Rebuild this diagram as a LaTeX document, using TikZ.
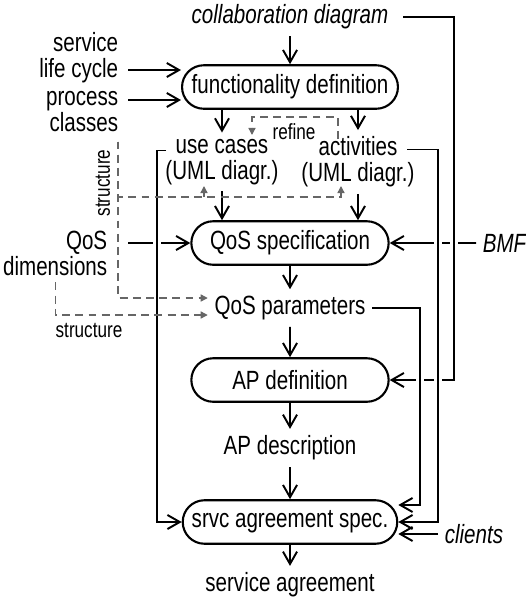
\documentclass[tikz,border=0pt]{standalone}
\usepackage{fontspec}
\setmainfont[FakeStretch=0.78]{Liberation Sans}
\usetikzlibrary{arrows.meta,positioning,shapes.misc}

\tikzset{
  stage/.style={draw,rounded rectangle,minimum width=4.18cm,minimum height=0.87cm,
    line width=1.2pt,font=\fontsize{15}{14.6}\selectfont},
  txt/.style={font=\fontsize{15}{14.6}\selectfont,align=center},
  ext/.style={font=\fontsize{15}{14.6}\selectfont\itshape},
  note/.style={font=\fontsize{12.5}{12}\selectfont},
  dsh/.style={draw=black!60,line width=0.75pt,dash pattern=on 4.5pt off 3pt},
  gtip/.style={-{Triangle[length=4pt,width=4pt]}},
  gap/.style={preaction={draw=white,line width=5pt,-,shorten >=0.5cm}}
}

\begin{document}
\begin{tikzpicture}[>={Straight Barb[length=7pt,width=8pt]},line width=1.1pt,node distance=1.4cm,on grid]
  \useasboundingbox (0,0) rectangle (10.52,-12);

  \node[ext] (collab) at (5.8,-0.34) {collaboration diagram};
  \node[stage] (func) [below=of collab] {functionality definition};
  \node[txt] (usec) [below left=1.5cm and 1.36cm of func] {use cases\\(UML diagr.)};
  \node[txt] (activ) [below right=1.5cm and 1.36cm of func] {activities\\(UML diagr.)};
  \node[stage] (qosspec) [below=3.12cm of func] {QoS specification};
  \node[txt] (qospar) [below=1.3cm of qosspec] {QoS parameters};
  \node[stage] (apdef) [below=1.44cm of qospar] {AP definition};
  \node[txt] (apdesc) [below=1.36cm of apdef] {AP description};
  \node[stage] (srvc) [below=1.48cm of apdesc] {srvc agreement spec.};
  \node[txt] (agree) [below=1.26cm of srvc] {service agreement};

  \node[txt,align=right,anchor=east] (cycle) at (2.5,-1.15) {service\\life cycle};
  \node[txt,align=right,anchor=east] (proc) at (2.5,-2.23) {process\\classes};
  \node[txt,align=right,anchor=east] (dims) at (2.28,-5.07) {QoS\\dimensions};
  \node[ext,anchor=west] (bmf) at (9.52,-4.86) {BMF};
  \node[ext,anchor=west] (clients) at (8.76,-10.68) {clients};
  \node[note] (refine) at (5.88,-2.64) {refine};
  \node[note,rotate=90] (struct) at (2.06,-3.66) {structure};
  \node[note] (struct2) at (1.78,-6.6) {structure};

  \coordinate (railL) at (3.14,0);
  \coordinate (railA) at (8.4,0);
  \coordinate (railB) at (8.76,0);
  \coordinate (railC) at (9.08,0);

  \draw[->] (collab) -- (func);
  \draw[->] (usec |- func.south) -- (usec);
  \draw[->] (activ |- func.south) -- (activ);
  \draw[->] (usec) -- (usec |- qosspec.north);
  \draw[->] (activ) -- (activ |- qosspec.north);
  \draw[->] (qosspec) -- (qospar);
  \draw[->] (qospar) -- (apdef);
  \draw[->] (apdef) -- (apdesc);
  \draw[->] (apdesc) -- (srvc);
  \draw[->] (srvc) -- (agree);

  \draw[->] ([xshift=.06cm,yshift=-.25cm]cycle.east) coordinate (c1) -- (c1 -| func.west);
  \draw[->] ([xshift=.06cm,yshift=.23cm]proc.east) coordinate (p0) -- (p0 -| func.west);
  \draw[->,shorten <=.28cm] (dims.east |- qosspec.west) -- (qosspec.west);
  \draw[->] (bmf.west) -- (qosspec.east);
  \draw[->] (clients.west) -- (clients.west -| srvc.east);

  % lines that cross others leave a gap
  \draw[->,gap] ([xshift=.16cm]collab.east) -| (railC |- apdef.east) -- (apdef.east);
  \draw[->,gap] ([shift={(.98,.25)}]activ.center) -| (railB |- srvc.east) -- (srvc.east);
  \draw[->,gap] (qospar.east) -| ([yshift=.34cm]railA |- srvc.east) -- ([yshift=.34cm]srvc.east);
  \draw[->,gap] ([shift={(-1.12,.23)}]usec.center) -| (railL |- srvc.west) -- (srvc.west);

  \draw[dsh,gtip] ([shift={(-.4,.46)}]activ.center) |- ([shift={(.6,.9)}]usec.center)
    -- ([shift={(.6,.54)}]usec.center);
  \draw[dsh,gtip] ([shift={(-.14,-.6)}]proc.east) |- ([shift={(-.34,-.7)}]activ.center)
    -- ([shift={(-.34,-.48)}]activ.center);
  \draw[dsh,gtip] ([shift={(-.36,-.7)}]usec.center) -- ([shift={(-.36,-.48)}]usec.center);
  \draw[dsh,gtip] ([shift={(-.14,-.6)}]proc.east) |- ([yshift=.2cm]qospar.west);
  \draw[dsh,gtip] (dims.south) |- ([yshift=-.14cm]qospar.west);
\end{tikzpicture}
\end{document}
